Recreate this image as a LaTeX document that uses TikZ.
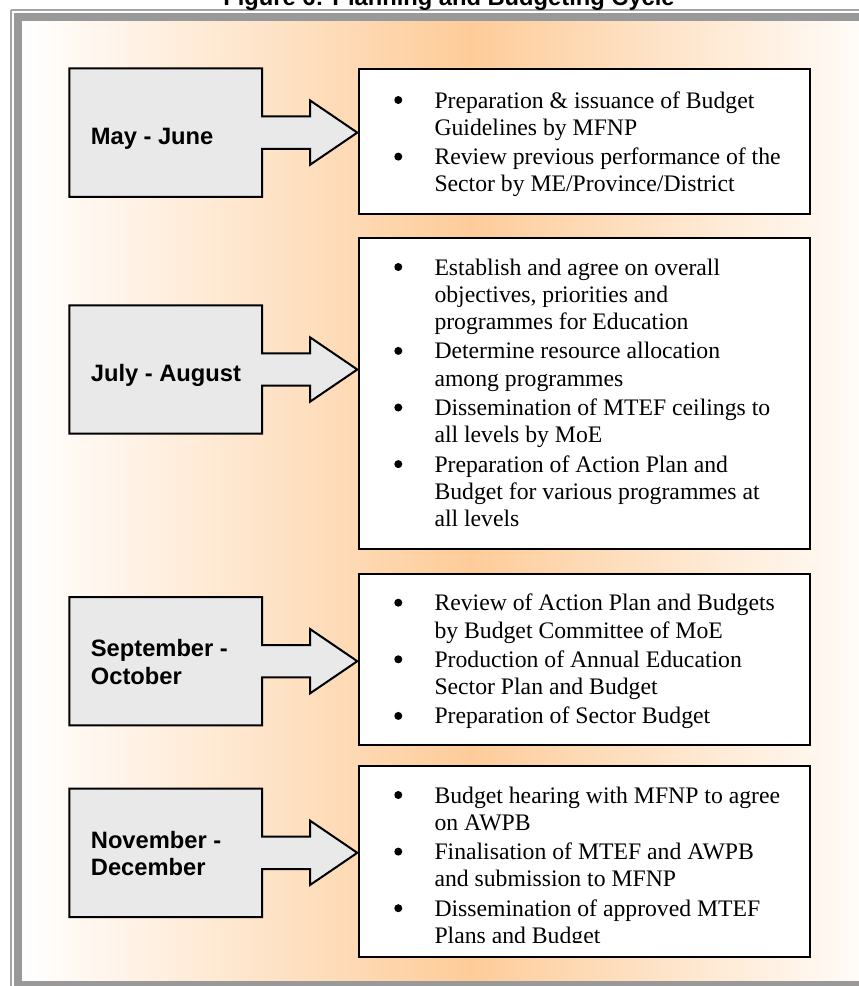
\documentclass[tikz,border=0pt]{standalone}
\usepackage{fontspec}
\setmainfont{Liberation Serif}
\newfontfamily\labelfont{Liberation Sans}
\definecolor{peach}{RGB}{254,204,153}
\definecolor{callgray}{RGB}{233,233,233}
\definecolor{framegray}{RGB}{153,153,153}
\definecolor{thingray}{RGB}{165,165,165}
\newcommand\callshape[1]{%
  \draw[cbox] (69.3,#1-64.2) -- (262,#1-64.2) -- (262,#1-16.2) -- (310,#1-16.2)
    -- (310,#1-32.2) -- (357.3,#1) -- (310,#1+32.2) -- (310,#1+16.2)
    -- (262,#1+16.2) -- (262,#1+64.2) -- (69.3,#1+64.2) -- cycle;}
\newcommand\bul[1]{\fill (398.3,#1-8) circle[radius=4pt];}
\begin{document}
\begin{tikzpicture}[x=1pt,y=-1pt,
  rbox/.style={draw=black, line width=2pt, fill=white, anchor=north west, inner sep=0pt, minimum width=451.5pt},
  cbox/.style={draw=black, line width=2pt, fill=callgray, line join=miter},
  lbl/.style={anchor=base west, inner sep=0pt, font=\labelfont\bfseries\fontsize{23.7}{27}\selectfont},
  body/.style={anchor=base west, inner sep=0pt, font=\fontsize{23.7}{27}\selectfont},
  ttl/.style={anchor=base, inner sep=0pt, font=\labelfont\bfseries\fontsize{23.7}{27}\selectfont},
]
\useasboundingbox (0,0) rectangle (859,986);
\fill[white] (0,0) rectangle (859,986);
% background gradient
\shade[left color=white, right color=peach] (22,21) rectangle (471,981);
\shade[left color=peach, right color=peach!6] (471,21) rectangle (859,981);
% frame
\draw[thingray, line width=1.5pt] (11,10) -- (859,10);
\draw[thingray, line width=1.5pt] (11,10) -- (11,986);
\fill[framegray] (14,13.3) rectangle (859,20.8);
\fill[framegray] (14,13.3) rectangle (22,986);
\fill[framegray] (14,981) rectangle (859,986);
% title
\node[ttl] (title) at (449,5.5) {Figure 6: Planning and Budgeting Cycle};

% callouts
\callshape{132.6}
\callshape{369.5}
\callshape{661.2}
\callshape{852.8}

\node[lbl] (l1) at (90.7,144.3) {May - June};
\node[lbl] (l2) at (90.7,381.3) {July - August};
\node[lbl] (l3a) at (90.7,656.7) {September -};
\node[lbl] (l3b) at (90.7,684) {October};
\node[lbl] (l4a) at (90.7,848.3) {November -};
\node[lbl] (l4b) at (90.7,875.6) {December};

% right boxes
\node[rbox, minimum height=144.4pt] (r1) at (357.5,68.3) {};
\node[rbox, minimum height=311.6pt] (r2) at (357.5,236.7) {};
\node[rbox, minimum height=171.6pt] (r3) at (357.5,572.7) {};
\node[rbox, minimum height=191pt] (r4) at (357.5,765) {};

% box 1
\bul{108}\bul{164.6}
\node[body] (t1a) at (434.3,108) {Preparation \& issuance of Budget};
\node[body] (t1b) at (434.3,135.3) {Guidelines by MFNP};
\node[body] (t1c) at (434.3,164.6) {Review previous performance of the};
\node[body] (t1d) at (434.3,191.9) {Sector by ME/Province/District};

% box 2
\bul{275}\bul{358.9}\bul{415.5}\bul{472.1}
\node[body] (t2a) at (434.3,275) {Establish and agree on overall};
\node[body] (t2b) at (434.3,302.3) {objectives, priorities and};
\node[body] (t2c) at (434.3,329.6) {programmes for Education};
\node[body] (t2d) at (434.3,358.9) {Determine resource allocation};
\node[body] (t2e) at (434.3,386.2) {among programmes};
\node[body] (t2f) at (434.3,415.5) {Dissemination of MTEF ceilings to};
\node[body] (t2g) at (434.3,442.8) {all levels by MoE};
\node[body] (t2h) at (434.3,472.1) {Preparation of Action Plan and};
\node[body] (t2i) at (434.3,499.4) {Budget for various programmes at};
\node[body] (t2j) at (434.3,526.7) {all levels};

% box 3
\bul{610.7}\bul{667.3}\bul{723.9}
\node[body] (t3a) at (434.3,610.7) {Review of Action Plan and Budgets};
\node[body] (t3b) at (434.3,638) {by Budget Committee of MoE};
\node[body] (t3c) at (434.3,667.3) {Production of Annual Education};
\node[body] (t3d) at (434.3,694.6) {Sector Plan and Budget};
\node[body] (t3e) at (434.3,723.9) {Preparation of Sector Budget};

% box 4 (clipped)
\begin{scope}
\clip (359,766) rectangle (808,942);
\bul{803}\bul{859.6}\bul{916.2}
\node[body] (t4a) at (434.3,803) {Budget hearing with MFNP to agree};
\node[body] (t4b) at (434.3,830.3) {on AWPB};
\node[body] (t4c) at (434.3,859.6) {Finalisation of MTEF and AWPB};
\node[body] (t4d) at (434.3,886.9) {and submission to MFNP};
\node[body] (t4e) at (434.3,916.2) {Dissemination of approved MTEF};
\node[body] (t4f) at (434.3,943.5) {Plans and Budget};
\end{scope}
\end{tikzpicture}
\end{document}
